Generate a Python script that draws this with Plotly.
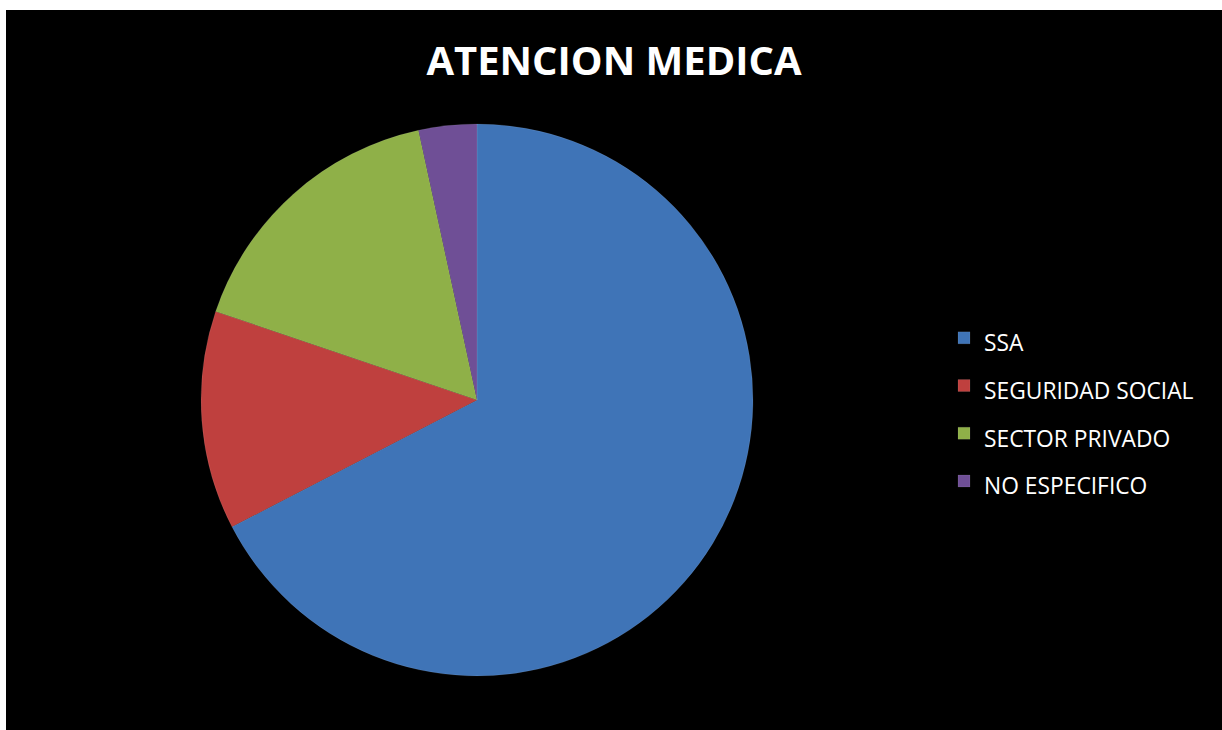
import plotly.graph_objects as go

categories = ["SSA", "SEGURIDAD SOCIAL", "SECTOR PRIVADO", "NO ESPECIFICO"]
values = [67.4, 12.8, 16.4, 3.4]
colors = ["#3F74B7", "#BF403E", "#8FB048", "#6F4F96"]
title_text = "ATENCION MEDICA"

legend_labels = [f'<span style="font-size:22.8px">{c}</span>' for c in categories]

fig = go.Figure(
    go.Pie(
        labels=legend_labels,
        values=values,
        sort=False,
        direction="clockwise",
        rotation=0,
        textinfo="none",
        hovertext=categories,
        hoverinfo="text+percent",
        marker=dict(colors=colors, line=dict(color="rgba(255,255,255,0.15)", width=0.6)),
        domain=dict(x=[0.1604, 0.6143], y=[0.0750, 0.8417]),
    )
)

fig.update_layout(
    width=1222,
    height=730,
    margin=dict(l=6, r=0, t=10, b=0),
    paper_bgcolor="white",
    font=dict(family="Open Sans", color="white"),
    title=dict(
        text=f"<b>{title_text}</b>",
        x=0.5,
        xref="paper",
        xanchor="center",
        y=1 - 61 / 730,
        yref="container",
        yanchor="middle",
        font=dict(family="Open Sans", size=40, color="white"),
    ),
    legend=dict(
        x=0.7714,
        xanchor="left",
        y=0.4452,
        yanchor="middle",
        font=dict(family="Open Sans", size=34.4, color="white"),
        bgcolor="rgba(0,0,0,0)",
    ),
    shapes=[
        dict(type="rect", xref="paper", yref="paper", x0=0, x1=1, y0=0, y1=1,
             fillcolor="black", line=dict(width=0), layer="below")
    ],
)

fig.write_html(
    "out.html",
    config={"displayModeBar": False},
    post_script="document.body.style.margin='0';",
)
